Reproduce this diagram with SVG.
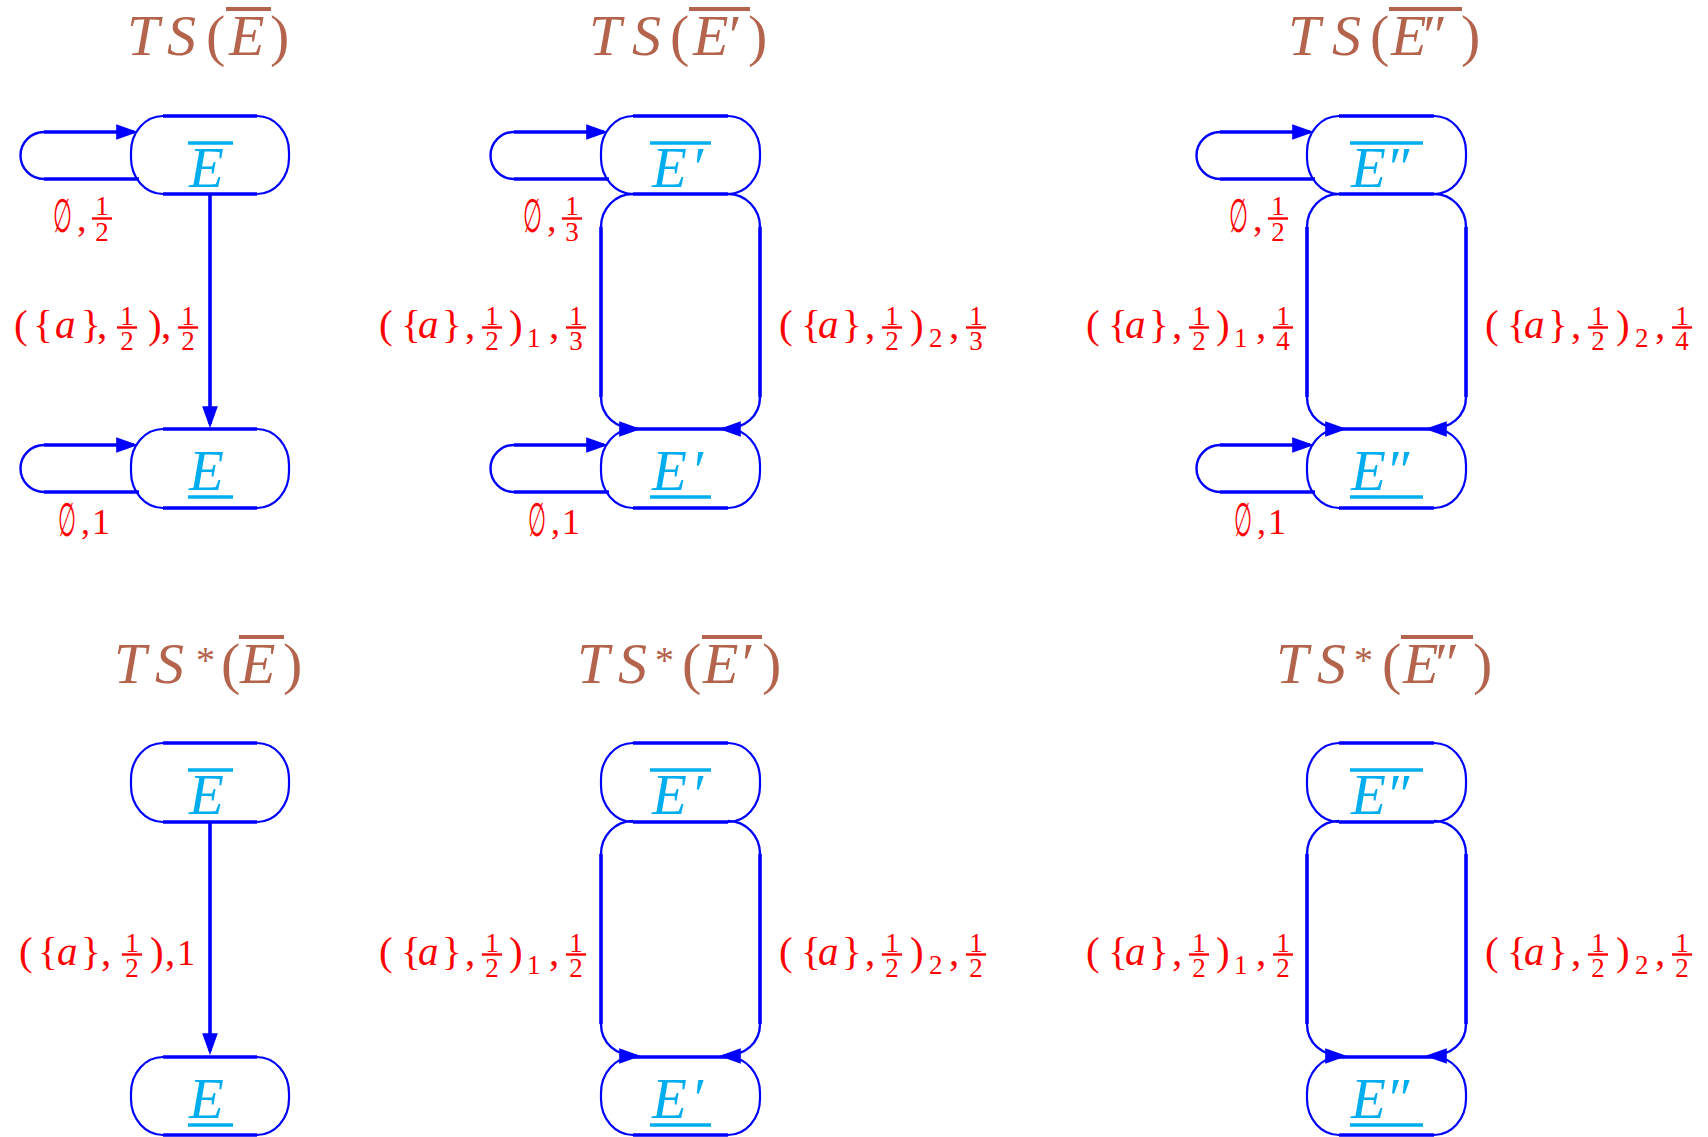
<svg xmlns="http://www.w3.org/2000/svg" width="1708" height="1137" viewBox="0 0 1708 1137">
<style>
text{font-family:"Liberation Serif","DejaVu Serif",serif}
.t{fill:#B4644C;font-size:58px}
.i{font-style:italic}
.st{font-size:38px}
.n{fill:#00AEEF;font-size:57px;font-style:italic}
.l{fill:#FF0000;font-size:41px}
.sb{font-size:27px}
.fd{fill:#FF0000;font-size:27px;text-anchor:middle}
.es{fill:#FF0000;font-size:38px}
.e1{fill:#FF0000;font-size:36px}
.em{fill:#FF0000;font-size:47px}
.fb{stroke:#FF0000;stroke-width:2.4}
.ob{stroke:#B4644C;stroke-width:4}
.cb{stroke:#00AEEF;stroke-width:3.5}
.nb{fill:none;stroke:#0000FF;stroke-width:2.2}
.nt{fill:none;stroke:#0000FF;stroke-width:3.6}
.c{fill:none;stroke:#0000FF;stroke-width:2.4}
.s{fill:none;stroke:#0000FF;stroke-width:3.6}
.a{marker-end:url(#ah)}
</style>
<defs>
<marker id="ah" markerUnits="userSpaceOnUse" markerWidth="22" markerHeight="16" viewBox="0 0 21 15" refX="17" refY="7.5" orient="auto"><path d="M0 0L21 7.5L0 15z" fill="#0000FF"/></marker>
</defs>
<rect width="1708" height="1137" fill="#FFFFFF"/>

<g id="titles">
<text class="t" y="55"><tspan class="i" x="127">T</tspan><tspan class="i" x="167">S</tspan><tspan x="206">(</tspan><tspan class="i" x="229">E</tspan><tspan x="270">)</tspan></text>
<line class="ob" x1="226" y1="9" x2="271" y2="9"/>
<text class="t" y="55"><tspan class="i" x="589">T</tspan><tspan class="i" x="632">S</tspan><tspan x="670">(</tspan><tspan class="i" x="693">E</tspan><tspan x="729">′</tspan><tspan x="748">)</tspan></text>
<line class="ob" x1="689" y1="9" x2="750" y2="9"/>
<text class="t" y="55"><tspan class="i" x="1288">T</tspan><tspan class="i" x="1332">S</tspan><tspan x="1370">(</tspan><tspan class="i" x="1391">E</tspan><tspan x="1423">″</tspan><tspan x="1461">)</tspan></text>
<line class="ob" x1="1389" y1="9" x2="1462" y2="9"/>
<text class="t" y="683"><tspan class="i" x="114">T</tspan><tspan class="i" x="155">S</tspan><tspan class="st" x="196" y="673">*</tspan><tspan x="221" y="683">(</tspan><tspan class="i" x="240">E</tspan><tspan x="283">)</tspan></text>
<line class="ob" x1="239" y1="637" x2="284" y2="637"/>
<text class="t" y="683"><tspan class="i" x="577">T</tspan><tspan class="i" x="618">S</tspan><tspan class="st" x="655" y="673">*</tspan><tspan x="682" y="683">(</tspan><tspan class="i" x="703">E</tspan><tspan x="742">′</tspan><tspan x="762">)</tspan></text>
<line class="ob" x1="702" y1="637" x2="762" y2="637"/>
<text class="t" y="683"><tspan class="i" x="1276">T</tspan><tspan class="i" x="1317">S</tspan><tspan class="st" x="1354" y="673">*</tspan><tspan x="1382" y="683">(</tspan><tspan class="i" x="1403">E</tspan><tspan x="1435">″</tspan><tspan x="1473">)</tspan></text>
<line class="ob" x1="1401" y1="637" x2="1473" y2="637"/>
</g>

<g id="connectors">
<path class="c" d="M44 179A23.5 23.5 0 0 1 44 132"/>
<path class="s a" d="M44 132H134"/>
<path class="s" d="M139 179H44"/>
<path class="c" d="M44 492A23.5 23.5 0 0 1 44 445"/>
<path class="s a" d="M44 445H134"/>
<path class="s" d="M139 492H44"/>
<path class="s a" d="M210 194V424"/>
<path class="c" d="M514 179A23.5 23.5 0 0 1 514 132"/>
<path class="s a" d="M514 132H604"/>
<path class="s" d="M609 179H514"/>
<path class="c" d="M514 492A23.5 23.5 0 0 1 514 445"/>
<path class="s a" d="M514 445H604"/>
<path class="s" d="M609 492H514"/>
<path class="c" d="M633 194C615 194 601 209 601 227"/>
<path class="s" d="M601 227V397"/>
<path class="c a" d="M601 397C601 416 616 429 637 429"/>
<path class="c" d="M728 194C746 194 760 209 760 227"/>
<path class="s" d="M760 227V397"/>
<path class="c a" d="M760 397C760 416 745 429 723 429"/>
<path class="c" d="M1220 179A23.5 23.5 0 0 1 1220 132"/>
<path class="s a" d="M1220 132H1310"/>
<path class="s" d="M1315 179H1220"/>
<path class="c" d="M1220 492A23.5 23.5 0 0 1 1220 445"/>
<path class="s a" d="M1220 445H1310"/>
<path class="s" d="M1315 492H1220"/>
<path class="c" d="M1339 194C1321 194 1307 209 1307 227"/>
<path class="s" d="M1307 227V397"/>
<path class="c a" d="M1307 397C1307 416 1322 429 1343 429"/>
<path class="c" d="M1434 194C1452 194 1466 209 1466 227"/>
<path class="s" d="M1466 227V397"/>
<path class="c a" d="M1466 397C1466 416 1451 429 1429 429"/>
<g transform="translate(0,627)">
<path class="s a" d="M210 194V424"/>
<path class="c" d="M633 194C615 194 601 209 601 227"/>
<path class="s" d="M601 227V397"/>
<path class="c a" d="M601 397C601 416 616 429 637 429"/>
<path class="c" d="M728 194C746 194 760 209 760 227"/>
<path class="s" d="M760 227V397"/>
<path class="c a" d="M760 397C760 416 745 429 723 429"/>
<path class="c" d="M1339 194C1321 194 1307 209 1307 227"/>
<path class="s" d="M1307 227V397"/>
<path class="c a" d="M1307 397C1307 416 1322 429 1343 429"/>
<path class="c" d="M1434 194C1452 194 1466 209 1466 227"/>
<path class="s" d="M1466 227V397"/>
<path class="c a" d="M1466 397C1466 416 1451 429 1429 429"/>
</g>
</g>

<g id="labels">
<text class="em" x="53" y="232" textLength="19" lengthAdjust="spacingAndGlyphs">∅</text><text class="es" x="77" y="231">,</text>
<line class="fb" x1="92" y1="218.5" x2="112" y2="218.5"/><text class="fd" x="102" y="215">1</text><text class="fd" x="102" y="241">2</text>
<text class="em" x="523" y="232" textLength="19" lengthAdjust="spacingAndGlyphs">∅</text><text class="es" x="547" y="231">,</text>
<line class="fb" x1="562" y1="218.5" x2="582" y2="218.5"/><text class="fd" x="572" y="215">1</text><text class="fd" x="572" y="241">3</text>
<text class="em" x="1229" y="232" textLength="19" lengthAdjust="spacingAndGlyphs">∅</text><text class="es" x="1253" y="231">,</text>
<line class="fb" x1="1268" y1="218.5" x2="1288" y2="218.5"/><text class="fd" x="1278" y="215">1</text><text class="fd" x="1278" y="241">2</text>
<text class="em" x="58" y="536" textLength="18" lengthAdjust="spacingAndGlyphs">∅</text><text class="e1" y="534"><tspan x="81">,</tspan><tspan x="92">1</tspan></text>
<text class="em" x="528" y="536" textLength="18" lengthAdjust="spacingAndGlyphs">∅</text><text class="e1" y="534"><tspan x="551">,</tspan><tspan x="562">1</tspan></text>
<text class="em" x="1234" y="536" textLength="18" lengthAdjust="spacingAndGlyphs">∅</text><text class="e1" y="534"><tspan x="1257">,</tspan><tspan x="1268">1</tspan></text>

<text class="l" y="338"><tspan x="14">(</tspan><tspan x="33">{</tspan><tspan class="i" x="55">a</tspan><tspan x="81">}</tspan><tspan x="97">,</tspan><tspan x="148">)</tspan><tspan x="161">,</tspan></text>
<line class="fb" x1="117" y1="327.5" x2="137" y2="327.5"/><text class="fd" x="127" y="325">1</text><text class="fd" x="127" y="350">2</text>
<line class="fb" x1="178" y1="327.5" x2="198" y2="327.5"/><text class="fd" x="188" y="325">1</text><text class="fd" x="188" y="350">2</text>

<text class="l" y="338"><tspan x="379">(</tspan><tspan x="401">{</tspan><tspan class="i" x="418">a</tspan><tspan x="442">}</tspan><tspan x="465">,</tspan><tspan x="509">)</tspan><tspan class="sb" x="527" y="347">1</tspan><tspan x="549" y="338">,</tspan></text>
<line class="fb" x1="482" y1="327.5" x2="502" y2="327.5"/><text class="fd" x="492" y="325">1</text><text class="fd" x="492" y="350">2</text>
<line class="fb" x1="566" y1="327.5" x2="586" y2="327.5"/><text class="fd" x="576" y="325">1</text><text class="fd" x="576" y="350">3</text>
<text class="l" y="338"><tspan x="779">(</tspan><tspan x="801">{</tspan><tspan class="i" x="818">a</tspan><tspan x="842">}</tspan><tspan x="865">,</tspan><tspan x="910">)</tspan><tspan class="sb" x="929" y="347">2</tspan><tspan x="949" y="338">,</tspan></text>
<line class="fb" x1="882" y1="327.5" x2="902" y2="327.5"/><text class="fd" x="892" y="325">1</text><text class="fd" x="892" y="350">2</text>
<line class="fb" x1="966" y1="327.5" x2="986" y2="327.5"/><text class="fd" x="976" y="325">1</text><text class="fd" x="976" y="350">3</text>

<text class="l" y="338"><tspan x="1086">(</tspan><tspan x="1108">{</tspan><tspan class="i" x="1125">a</tspan><tspan x="1149">}</tspan><tspan x="1172">,</tspan><tspan x="1216">)</tspan><tspan class="sb" x="1234" y="347">1</tspan><tspan x="1256" y="338">,</tspan></text>
<line class="fb" x1="1189" y1="327.5" x2="1209" y2="327.5"/><text class="fd" x="1199" y="325">1</text><text class="fd" x="1199" y="350">2</text>
<line class="fb" x1="1273" y1="327.5" x2="1293" y2="327.5"/><text class="fd" x="1283" y="325">1</text><text class="fd" x="1283" y="350">4</text>
<text class="l" y="338"><tspan x="1485">(</tspan><tspan x="1507">{</tspan><tspan class="i" x="1524">a</tspan><tspan x="1548">}</tspan><tspan x="1571">,</tspan><tspan x="1616">)</tspan><tspan class="sb" x="1635" y="347">2</tspan><tspan x="1655" y="338">,</tspan></text>
<line class="fb" x1="1588" y1="327.5" x2="1608" y2="327.5"/><text class="fd" x="1598" y="325">1</text><text class="fd" x="1598" y="350">2</text>
<line class="fb" x1="1672" y1="327.5" x2="1692" y2="327.5"/><text class="fd" x="1682" y="325">1</text><text class="fd" x="1682" y="350">4</text>

<g transform="translate(0,627)">
<text class="l" y="338"><tspan x="19">(</tspan><tspan x="38">{</tspan><tspan class="i" x="57">a</tspan><tspan x="81">}</tspan><tspan x="101">,</tspan><tspan x="150">)</tspan><tspan x="165">,</tspan><tspan style="font-size:36px" x="177">1</tspan></text>
<line class="fb" x1="122" y1="327.5" x2="142" y2="327.5"/><text class="fd" x="132" y="325">1</text><text class="fd" x="132" y="350">2</text>

<text class="l" y="338"><tspan x="379">(</tspan><tspan x="401">{</tspan><tspan class="i" x="418">a</tspan><tspan x="442">}</tspan><tspan x="465">,</tspan><tspan x="509">)</tspan><tspan class="sb" x="527" y="347">1</tspan><tspan x="549" y="338">,</tspan></text>
<line class="fb" x1="482" y1="327.5" x2="502" y2="327.5"/><text class="fd" x="492" y="325">1</text><text class="fd" x="492" y="350">2</text>
<line class="fb" x1="566" y1="327.5" x2="586" y2="327.5"/><text class="fd" x="576" y="325">1</text><text class="fd" x="576" y="350">2</text>
<text class="l" y="338"><tspan x="779">(</tspan><tspan x="801">{</tspan><tspan class="i" x="818">a</tspan><tspan x="842">}</tspan><tspan x="865">,</tspan><tspan x="910">)</tspan><tspan class="sb" x="929" y="347">2</tspan><tspan x="949" y="338">,</tspan></text>
<line class="fb" x1="882" y1="327.5" x2="902" y2="327.5"/><text class="fd" x="892" y="325">1</text><text class="fd" x="892" y="350">2</text>
<line class="fb" x1="966" y1="327.5" x2="986" y2="327.5"/><text class="fd" x="976" y="325">1</text><text class="fd" x="976" y="350">2</text>

<text class="l" y="338"><tspan x="1086">(</tspan><tspan x="1108">{</tspan><tspan class="i" x="1125">a</tspan><tspan x="1149">}</tspan><tspan x="1172">,</tspan><tspan x="1216">)</tspan><tspan class="sb" x="1234" y="347">1</tspan><tspan x="1256" y="338">,</tspan></text>
<line class="fb" x1="1189" y1="327.5" x2="1209" y2="327.5"/><text class="fd" x="1199" y="325">1</text><text class="fd" x="1199" y="350">2</text>
<line class="fb" x1="1273" y1="327.5" x2="1293" y2="327.5"/><text class="fd" x="1283" y="325">1</text><text class="fd" x="1283" y="350">2</text>
<text class="l" y="338"><tspan x="1485">(</tspan><tspan x="1507">{</tspan><tspan class="i" x="1524">a</tspan><tspan x="1548">}</tspan><tspan x="1571">,</tspan><tspan x="1616">)</tspan><tspan class="sb" x="1635" y="347">2</tspan><tspan x="1655" y="338">,</tspan></text>
<line class="fb" x1="1588" y1="327.5" x2="1608" y2="327.5"/><text class="fd" x="1598" y="325">1</text><text class="fd" x="1598" y="350">2</text>
<line class="fb" x1="1672" y1="327.5" x2="1692" y2="327.5"/><text class="fd" x="1682" y="325">1</text><text class="fd" x="1682" y="350">2</text>
</g>
</g>

<g id="node-TS-Ebar" transform="translate(131,116)">
<rect class="nb" width="158" height="78" rx="32" ry="36"/><path class="nt" d="M32 0H126M32 78H126"/>
<text class="n" x="58" y="71">E</text><line class="cb" x1="57" y1="27" x2="102" y2="27"/>
</g>
<g id="node-TS-Eunder" transform="translate(131,429)">
<rect class="nb" width="158" height="79" rx="32" ry="36"/><path class="nt" d="M32 0H126M32 79H126"/>
<text class="n" x="58" y="61">E</text><line class="cb" x1="57" y1="68" x2="102" y2="68"/>
</g>
<g id="node-TS-E1bar" transform="translate(601,116)">
<rect class="nb" width="159" height="78" rx="32" ry="36"/><path class="nt" d="M32 0H127M32 78H127"/>
<text class="n" x="51" y="71">E<tspan x="93" style="font-style:normal">′</tspan></text><line class="cb" x1="49" y1="27" x2="110" y2="27"/>
</g>
<g id="node-TS-E1under" transform="translate(601,429)">
<rect class="nb" width="159" height="79" rx="32" ry="36"/><path class="nt" d="M32 0H127M32 79H127"/>
<text class="n" x="51" y="61">E<tspan x="93" style="font-style:normal">′</tspan></text><line class="cb" x1="49" y1="68" x2="110" y2="68"/>
</g>
<g id="node-TS-E2bar" transform="translate(1307,116)">
<rect class="nb" width="159" height="78" rx="32" ry="36"/><path class="nt" d="M32 0H127M32 78H127"/>
<text class="n" x="44" y="71">E<tspan x="82" style="font-style:normal">″</tspan></text><line class="cb" x1="43" y1="27" x2="116" y2="27"/>
</g>
<g id="node-TS-E2under" transform="translate(1307,429)">
<rect class="nb" width="159" height="79" rx="32" ry="36"/><path class="nt" d="M32 0H127M32 79H127"/>
<text class="n" x="44" y="61">E<tspan x="82" style="font-style:normal">″</tspan></text><line class="cb" x1="43" y1="68" x2="116" y2="68"/>
</g>

<g id="node-TSs-Ebar" transform="translate(131,743)">
<rect class="nb" width="158" height="79" rx="32" ry="36"/><path class="nt" d="M32 0H126M32 79H126"/>
<text class="n" x="58" y="71">E</text><line class="cb" x1="57" y1="27" x2="102" y2="27"/>
</g>
<g id="node-TSs-Eunder" transform="translate(131,1057)">
<rect class="nb" width="158" height="78" rx="32" ry="36"/><path class="nt" d="M32 0H126M32 78H126"/>
<text class="n" x="58" y="61">E</text><line class="cb" x1="57" y1="68" x2="102" y2="68"/>
</g>
<g id="node-TSs-E1bar" transform="translate(601,743)">
<rect class="nb" width="159" height="79" rx="32" ry="36"/><path class="nt" d="M32 0H127M32 79H127"/>
<text class="n" x="51" y="71">E<tspan x="93" style="font-style:normal">′</tspan></text><line class="cb" x1="49" y1="27" x2="110" y2="27"/>
</g>
<g id="node-TSs-E1under" transform="translate(601,1057)">
<rect class="nb" width="159" height="78" rx="32" ry="36"/><path class="nt" d="M32 0H127M32 78H127"/>
<text class="n" x="51" y="61">E<tspan x="93" style="font-style:normal">′</tspan></text><line class="cb" x1="49" y1="68" x2="110" y2="68"/>
</g>
<g id="node-TSs-E2bar" transform="translate(1307,743)">
<rect class="nb" width="159" height="79" rx="32" ry="36"/><path class="nt" d="M32 0H127M32 79H127"/>
<text class="n" x="44" y="71">E<tspan x="82" style="font-style:normal">″</tspan></text><line class="cb" x1="43" y1="27" x2="116" y2="27"/>
</g>
<g id="node-TSs-E2under" transform="translate(1307,1057)">
<rect class="nb" width="159" height="78" rx="32" ry="36"/><path class="nt" d="M32 0H127M32 78H127"/>
<text class="n" x="44" y="61">E<tspan x="82" style="font-style:normal">″</tspan></text><line class="cb" x1="43" y1="68" x2="116" y2="68"/>
</g>
</svg>
